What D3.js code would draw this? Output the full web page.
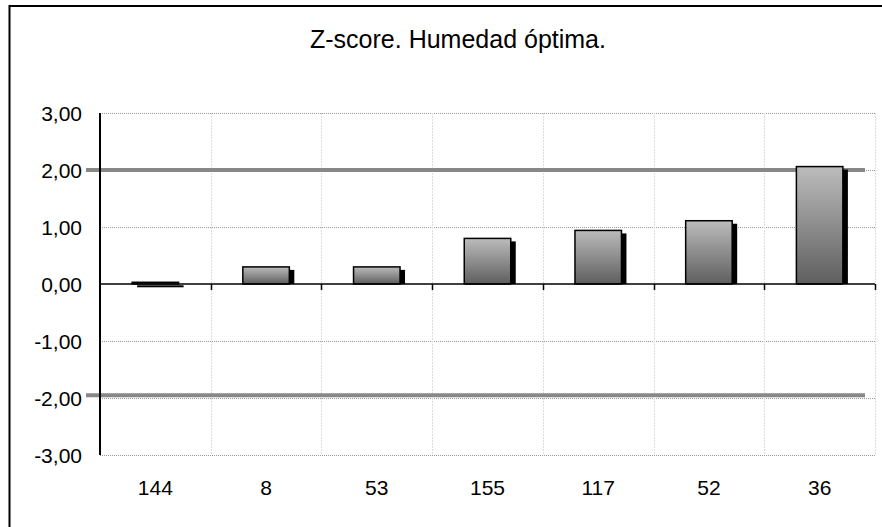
<!DOCTYPE html>
<html>
<head>
<meta charset="utf-8">
<script src="https://cdn.jsdelivr.net/npm/d3@7"></script>
<style>
  body { margin: 0; background: #fff; }
  text { font-family: "Liberation Sans", Arial, sans-serif; fill: #000; }
</style>
</head>
<body>
<svg width="882" height="527"></svg>
<script>
var categories = ["144", "8", "53", "155", "117", "52", "36"];
var zscores = [0.03, 0.3, 0.3, 0.8, 0.94, 1.11, 2.06];
var yTicks = [-3, -2, -1, 0, 1, 2, 3];
var limits = [2.0, -1.95];
var title = "Z-score. Humedad óptima.";

var svg = d3.select("svg"),
  width = +svg.attr("width"),
  height = +svg.attr("height");

var plotLeft = 100, plotRight = 875, plotTop = 113, plotBottom = 455;

var x = d3.scaleBand().domain(categories).range([plotLeft, plotRight]).paddingInner(0).paddingOuter(0);
var y = d3.scaleLinear().domain([-3, 3]).range([plotBottom, plotTop]);

var defs = svg.append("defs");
var grad = defs.append("linearGradient")
  .attr("id", "barGrad")
  .attr("x1", 0).attr("y1", 0).attr("x2", 0).attr("y2", 1);
grad.append("stop").attr("offset", "0%").attr("stop-color", "#bcbcbc");
grad.append("stop").attr("offset", "100%").attr("stop-color", "#5e5e5e");

// outer frame
svg.append("rect")
  .attr("x", 9.5).attr("y", 6)
  .attr("width", 900).attr("height", 560)
  .attr("fill", "none").attr("stroke", "#000").attr("stroke-width", 2);

svg.append("text")
  .attr("x", 458).attr("y", 48)
  .attr("text-anchor", "middle")
  .style("font-size", "25px")
  .text(title);

// horizontal gridlines
svg.append("g")
  .selectAll("line")
  .data(yTicks.filter(function (d) { return d !== 0; }))
  .enter()
  .append("line")
  .attr("x1", plotLeft).attr("x2", plotRight)
  .attr("y1", function (d) { return Math.round(y(d)) + 0.5; })
  .attr("y2", function (d) { return Math.round(y(d)) + 0.5; })
  .attr("stroke", "#999")
  .attr("stroke-dasharray", "1,1");

// vertical gridlines
svg.append("g")
  .selectAll("line")
  .data(categories)
  .enter()
  .append("line")
  .attr("x1", function (d) { return Math.round(x(d) + x.bandwidth()) + 0.5; })
  .attr("x2", function (d) { return Math.round(x(d) + x.bandwidth()) + 0.5; })
  .attr("y1", plotTop).attr("y2", plotBottom)
  .attr("stroke", "#ddd")
  .attr("stroke-dasharray", "2,1");

// limit lines
svg.append("g")
  .selectAll("line")
  .data(limits)
  .enter()
  .append("line")
  .attr("x1", 86).attr("x2", 865)
  .attr("y1", function (d) { return y(d); })
  .attr("y2", function (d) { return y(d); })
  .attr("stroke", "#888")
  .attr("stroke-width", 4);

var bw = x.bandwidth() * 0.42;

var bars = svg.append("g")
  .selectAll("g")
  .data(zscores)
  .enter()
  .append("g");

// shadow
bars.append("rect")
  .attr("x", function (d, i) { return x(categories[i]) + (x.bandwidth() - bw) / 2 + 5; })
  .attr("y", function (d) { return y(d) + 3; })
  .attr("width", bw)
  .attr("height", function (d) { return Math.max(y(0) - y(d) - 3, 2); })
  .attr("fill", "#000");

bars.append("rect")
  .attr("x", function (d, i) { return x(categories[i]) + (x.bandwidth() - bw) / 2; })
  .attr("y", function (d) { return y(d); })
  .attr("width", bw)
  .attr("height", function (d) { return y(0) - y(d); })
  .attr("fill", "url(#barGrad)")
  .attr("stroke", "#000")
  .attr("stroke-width", 1.5);

// zero axis with ticks
var xAxis = svg.append("g")
  .attr("transform", "translate(0," + y(0) + ")");
xAxis.append("line")
  .attr("x1", plotLeft).attr("x2", plotRight)
  .attr("stroke", "#000").attr("stroke-width", 1.5);
xAxis.selectAll("line.tick")
  .data(categories)
  .enter()
  .append("line")
  .attr("class", "tick")
  .attr("x1", function (d) { return Math.round(x(d) + x.bandwidth()) + 0.5; })
  .attr("x2", function (d) { return Math.round(x(d) + x.bandwidth()) + 0.5; })
  .attr("y1", 0).attr("y2", 6)
  .attr("stroke", "#000").attr("stroke-width", 1.5);

// y axis
svg.append("line")
  .attr("x1", plotLeft).attr("x2", plotLeft)
  .attr("y1", plotTop).attr("y2", plotBottom)
  .attr("stroke", "#000").attr("stroke-width", 2);

var fmt = function (d) { return d3.format(".2f")(d).replace(".", ",").replace("−", "-"); };

svg.append("g")
  .selectAll("text")
  .data(yTicks)
  .enter()
  .append("text")
  .attr("x", 82)
  .attr("y", function (d) { return y(d) + 8; })
  .attr("text-anchor", "end")
  .style("font-size", "21px")
  .text(fmt);

svg.append("g")
  .selectAll("text")
  .data(categories)
  .enter()
  .append("text")
  .attr("x", function (d) { return x(d) + x.bandwidth() / 2; })
  .attr("y", 495)
  .attr("text-anchor", "middle")
  .style("font-size", "21px")
  .text(function (d) { return d; });
</script>
</body>
</html>
